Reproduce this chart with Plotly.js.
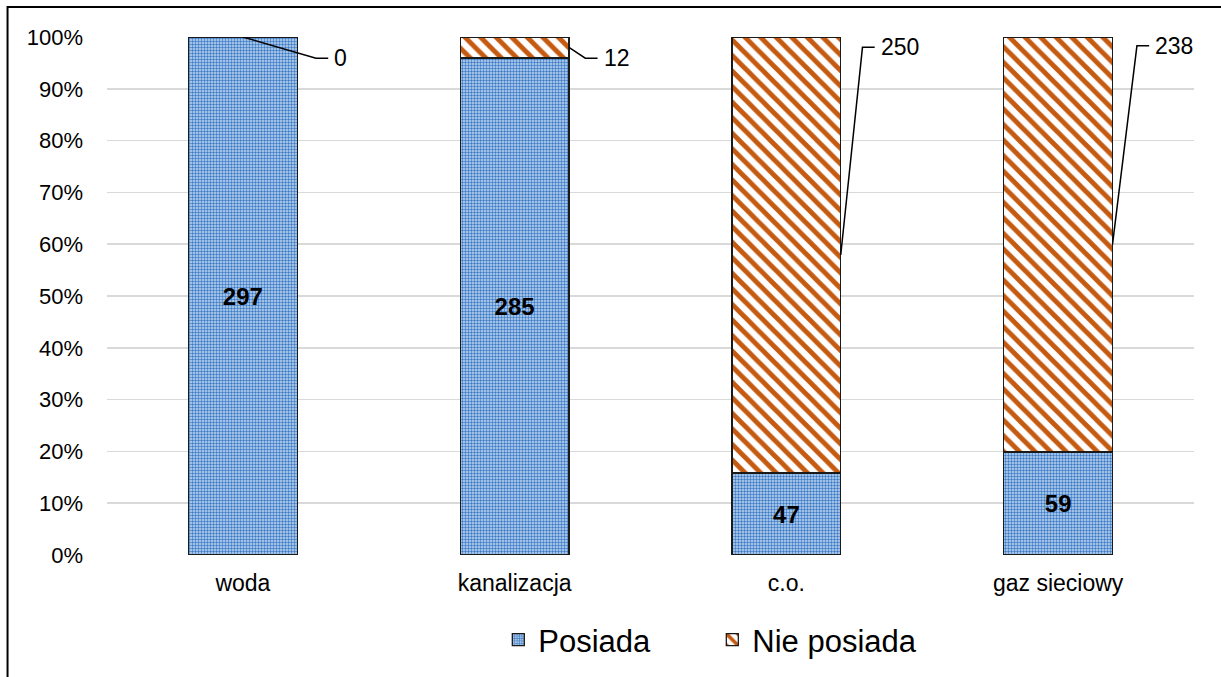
<!DOCTYPE html>
<html>
<head>
<meta charset="utf-8">
<script src="https://cdn.plot.ly/plotly-3.0.1.min.js"></script>
<style>html,body{margin:0;padding:0;background:#fff;}#chart{width:1221px;height:677px;}</style>
</head>
<body>
<div id="chart"></div>
<script>
const categories = ["woda", "kanalizacja", "c.o.", "gaz sieciowy"];
const posiada = [297, 285, 47, 59];
const niePosiada = [0, 12, 250, 238];
const yTicks = [0, 10, 20, 30, 40, 50, 60, 70, 80, 90, 100];
const yTickLabels = yTicks.map(v => v + "%");

const FONT = "Liberation Sans, Arial, sans-serif";
const idx = categories.map((c, i) => i);
const totals = posiada.map((v, i) => v + niePosiada[i]);
const pctP = posiada.map((v, i) => v / totals[i] * 100);

const traces = [
  {
    type: "bar", name: "Posiada", x: idx, y: posiada,
    text: posiada.map(String), textposition: "inside", insidetextanchor: "middle",
    textfont: {family: FONT, size: 24, color: "#000", weight: "bold"},
    texttemplate: "<b>%{text}</b>",
    marker: {color: "#b8d0ee", line: {color: "#1a1a1a", width: 1.3},
      pattern: {shape: ".", size: 3, solidity: 0.5, fgcolor: "#3a7ac6", bgcolor: "#c4d8f1", fillmode: "replace"}},
    hoverinfo: "skip"
  },
  {
    type: "bar", name: "Nie posiada", x: idx, y: niePosiada,
    marker: {color: "#ffffff", line: {color: "#1a1a1a", width: 1.3},
      pattern: {shape: "\\", size: 11, solidity: 0.45, fgcolor: "#c55a11", bgcolor: "#ffffff", fillmode: "replace"}},
    hoverinfo: "skip"
  }
];

// leader lines and labels for "Nie posiada"
const shapes = [];
const annotations = [];
const elbowY = [95.9, 95.9, 98.0, 98.3];
const elbowDx = [0.269, 0.06, 0.08, 0.09];
niePosiada.forEach((v, i) => {
  const mid = pctP[i] + (100 - pctP[i]) / 2;
  const x0 = v === 0 ? i : i + 0.2;
  const y0 = v === 0 ? 100 : mid;
  const ex = (v === 0 ? i : i + 0.2) + elbowDx[i];
  const ey = elbowY[i];
  const hx = ex + 0.045;
  shapes.push({type: "path", xref: "x", yref: "y",
    path: `M ${x0} ${y0} L ${ex} ${ey} L ${hx} ${ey}`,
    line: {color: "#000", width: 1.5}});
  annotations.push({x: hx + 0.015, y: ey, xref: "x", yref: "y", text: String(v),
    showarrow: false, xanchor: "left", yanchor: "middle",
    font: {family: FONT, size: 23, color: "#000"}});
});

// outer frame
shapes.push({type: "rect", xref: "paper", yref: "paper", x0: -0.0915, x1: 1.1, y0: -0.4, y1: 1.0579,
  line: {color: "#000", width: 2}, fillcolor: "rgba(0,0,0,0)", layer: "above"});

const layout = {
  width: 1221, height: 677,
  margin: {l: 107, r: 27, t: 37, b: 122, pad: 0},
  paper_bgcolor: "#fff", plot_bgcolor: "#fff",
  barmode: "stack", barnorm: "percent", bargap: 0.6,
  font: {family: FONT, size: 22, color: "#000"},
  xaxis: {
    type: "linear", range: [-0.5, 3.5], tickvals: idx, ticktext: categories,
    showgrid: false, zeroline: false, showline: false, ticks: "",
    tickfont: {family: FONT, size: 23, color: "#000"}, ticklabelstandoff: 12
  },
  yaxis: {
    range: [0, 100], tickvals: yTicks, ticktext: yTickLabels,
    showgrid: true, gridcolor: "#d9d9d9", gridwidth: 1.5, zeroline: false, showline: false,
    ticks: "", tickfont: {family: FONT, size: 22, color: "#000"}, ticklabelstandoff: 23
  },
  showlegend: true,
  legend: {orientation: "h", x: 0.36, xanchor: "left", yref: "container", y: 0.0945, yanchor: "top",
    font: {family: FONT, size: 31, color: "#000"}, itemwidth: 30, traceorder: "normal",
    entrywidth: 169},
  shapes: shapes,
  annotations: annotations
};

Plotly.newPlot("chart", traces, layout, {displayModeBar: false, staticPlot: true});
</script>
</body>
</html>
